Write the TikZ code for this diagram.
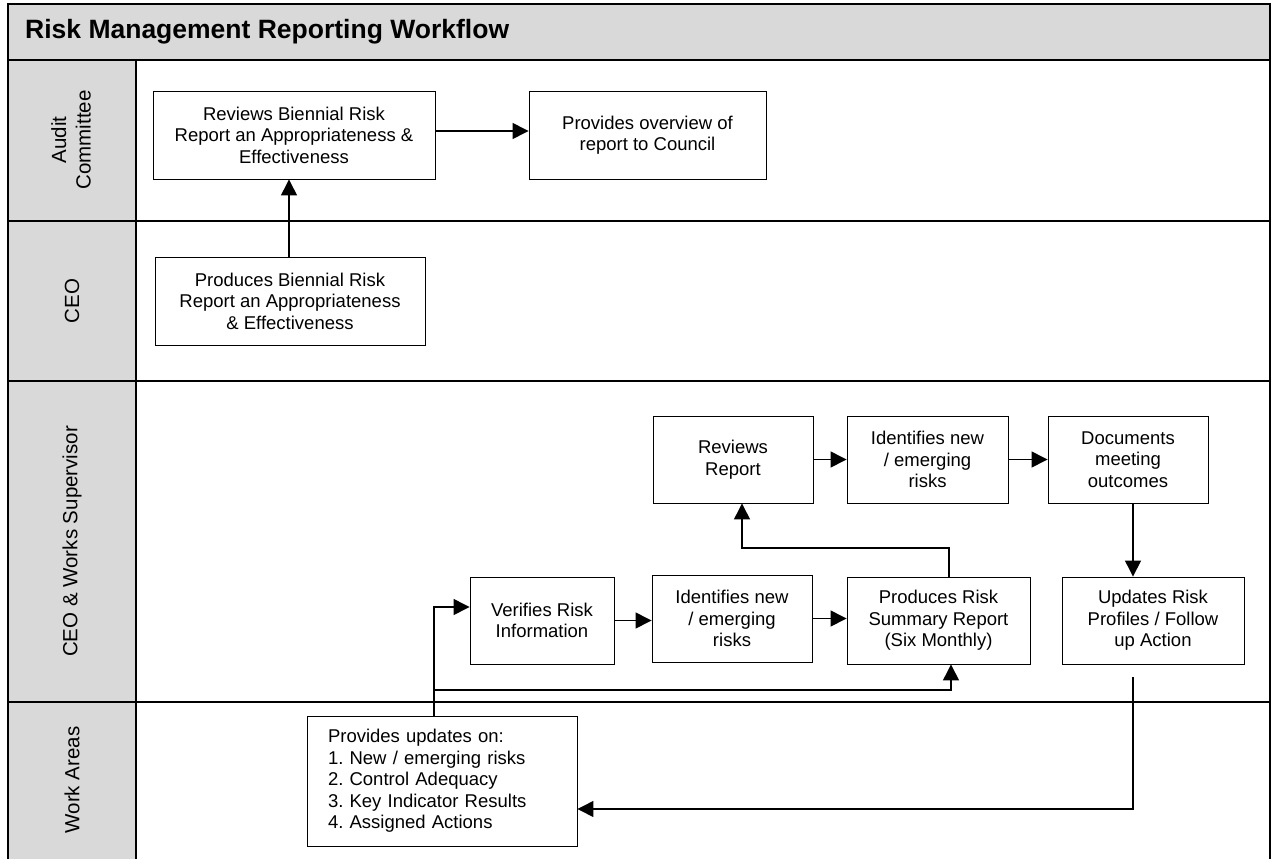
\documentclass[tikz,border=0pt]{standalone}
\usepackage{fontspec}
\setmainfont{Liberation Sans}
\usetikzlibrary{arrows.meta,shadows,calc}
\definecolor{hdr}{HTML}{D9D9D9}
\frenchspacing
\begin{document}
\begin{tikzpicture}[x=1pt,y=-1pt,
  lane/.style={line width=1.7pt},
  box/.style={draw, line width=0.9pt, fill=white, align=center, inner sep=2pt,
    font=\fontsize{18.5}{21.5}\selectfont,
    drop shadow={shadow xshift=1.3pt, shadow yshift=-1.3pt, fill=black!45, opacity=1}},
  arr/.style={line width=1.3pt, -{Triangle[length=16pt,width=16pt]}},
  plain/.style={line width=1.3pt},
  lanelabel/.style={rotate=90, align=center, font=\fontsize{20.5}{24.5}\selectfont},
]
\useasboundingbox (0,0) rectangle (1271,859);
% backgrounds
\fill[hdr] (8,4) rectangle (1270,60);
\fill[hdr] (8,60) rectangle (136,859);
% frame and lanes
\draw[lane] (8,859) -- (8,4) -- (1270,4) -- (1270,859);
\draw[lane] (8,60) -- (1270,60);
\draw[lane] (8,221) -- (1270,221);
\draw[lane] (8,381) -- (1270,381);
\draw[lane] (8,702) -- (1270,702);
\draw[lane] (136,60) -- (136,859);
% title
\node[anchor=west, inner sep=0pt, font=\fontsize{26.5}{30}\selectfont\bfseries] (title) at (25,32) {Risk Management Reporting Workflow};
% lane labels
\node[lanelabel] (lac) at (71,140) {Audit\\Committee};
\node[lanelabel] (lceo) at (72,301) {CEO};
\node[lanelabel] (lcws) at (72,541.5) {CEO \& Works Supervisor};
\node[lanelabel] (lwa) at (72,780) {Work Areas};
% boxes
\node[box, minimum width=282pt, minimum height=88pt] (rev) at (294,135) {Reviews Biennial Risk\\Report an Appropriateness \&\\Effectiveness};
\node[box, minimum width=237pt, minimum height=88pt] (ovr) at (647.5,135) {Provides overview of\\report to Council};
\node[box, minimum width=270pt, minimum height=88pt] (prod) at (290,301) {Produces Biennial Risk\\Report an Appropriateness\\\& Effectiveness};
\node[box, minimum width=160pt, minimum height=87pt] (rr) at (733,459.5) {Reviews\\Report};
\node[box, minimum width=161pt, minimum height=87pt] (id1) at (927.5,459.5) {Identifies new\\/ emerging\\risks};
\node[box, minimum width=160pt, minimum height=87pt] (doc) at (1128,459.5) {Documents\\meeting\\outcomes};
\node[box, minimum width=144pt, minimum height=87pt] (ver) at (542,620.5) {Verifies Risk\\Information};
\node[box, minimum width=160pt, minimum height=87pt] (id2) at (732,618.5) {Identifies new\\/ emerging\\risks};
\node[box, minimum width=183pt, minimum height=87pt] (psr) at (938.5,620.5) {Produces Risk\\Summary Report\\(Six Monthly)};
\node[box, minimum width=182pt, minimum height=87pt] (upd) at (1153,620.5) {Updates Risk\\Profiles / Follow\\up Action};
\node[box, align=left, text width=228pt, inner xsep=21pt, minimum width=270pt, minimum height=130pt] (wrk) at (442,781) {Provides updates on:\\1. New / emerging risks\\2. Control Adequacy\\3. Key Indicator Results\\4. Assigned Actions};
% connectors
\draw[arr] ([yshift=4pt]rev.east) -- ([yshift=4pt]ovr.west);
\draw[arr] ([xshift=-1pt]prod.north) -- ([xshift=-1pt]prod.north |- rev.south);
\draw[arr] (rr.east) -- (rr.east -| id1.west);
\draw[arr] (id1.east) -- (id1.east -| doc.west);
\draw[arr] ([xshift=5pt]doc.south) -- ([xshift=5pt]doc.south |- upd.north);
\draw[arr] (ver.east) -- (ver.east -| id2.west);
\draw[arr] (id2.east) -- (id2.east -| psr.west);
\coordinate (l1) at (742,548);
\draw[arr] ([xshift=10.5pt]psr.north) |- (l1) -- (l1 |- rr.south);
\coordinate (j1) at (434,690);
\coordinate (j2) at (434,607);
\draw[arr] ([xshift=-8pt]wrk.north) -- (j2) -- (j2 -| ver.west);
\draw[arr] (j1) -| ([xshift=12.5pt]psr.south);
\coordinate (u1) at (1133,677);
\coordinate (u2) at (1133,809);
\draw[arr] (u1) -- (u2) -- (u2 -| wrk.east);
\end{tikzpicture}
\end{document}
